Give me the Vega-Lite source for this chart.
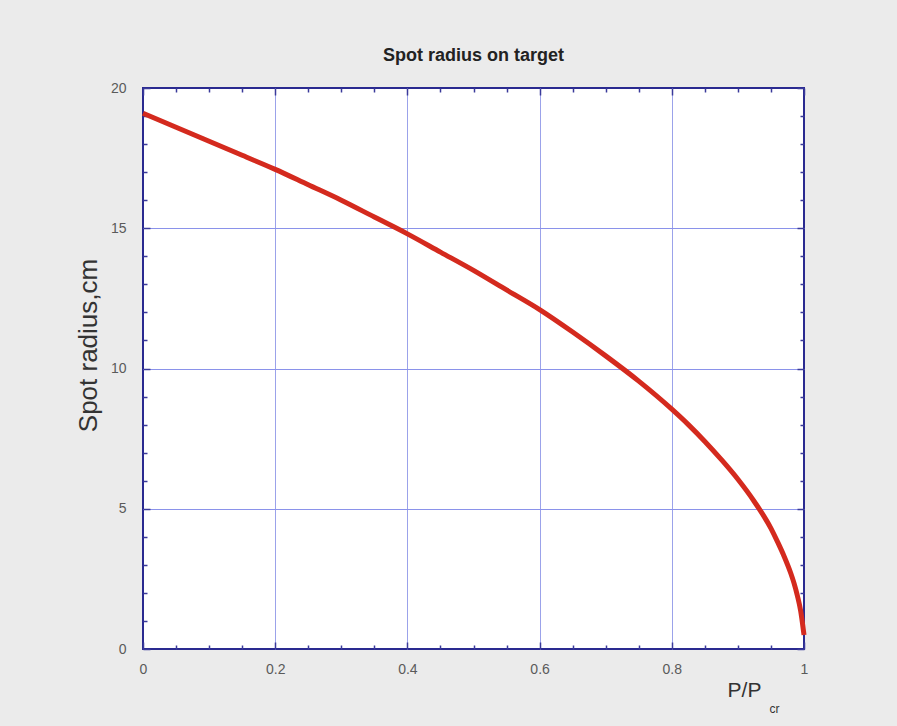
{
  "$schema": "https://vega.github.io/schema/vega-lite/v6.json",
  "autosize": "none",
  "width": 661,
  "height": 561,
  "padding": {"left": 143, "top": 88, "right": 93, "bottom": 77},
  "background": "#ebebeb",
  "config": {
    "view": {"fill": "white", "stroke": "#2a2a90", "strokeWidth": 2},
    "font": "Liberation Sans"
  },
  "title": {
    "text": "Spot radius on target",
    "fontSize": 18,
    "fontWeight": "bold",
    "color": "#222222",
    "anchor": "middle",
    "offset": 16
  },
  "data": {
    "values": [
      {"p": 0.0, "r": 19.1},
      {"p": 0.05, "r": 18.6},
      {"p": 0.1, "r": 18.1},
      {"p": 0.15, "r": 17.6},
      {"p": 0.2, "r": 17.1},
      {"p": 0.25, "r": 16.55},
      {"p": 0.3, "r": 16.0},
      {"p": 0.35, "r": 15.4},
      {"p": 0.4, "r": 14.8},
      {"p": 0.45, "r": 14.15},
      {"p": 0.5, "r": 13.5},
      {"p": 0.55, "r": 12.8},
      {"p": 0.6, "r": 12.1},
      {"p": 0.65, "r": 11.3},
      {"p": 0.7, "r": 10.45},
      {"p": 0.75, "r": 9.55},
      {"p": 0.8, "r": 8.55},
      {"p": 0.825, "r": 8.0},
      {"p": 0.85, "r": 7.4},
      {"p": 0.875, "r": 6.75},
      {"p": 0.9, "r": 6.05},
      {"p": 0.925, "r": 5.25},
      {"p": 0.95, "r": 4.3},
      {"p": 0.96, "r": 3.82},
      {"p": 0.97, "r": 3.3},
      {"p": 0.98, "r": 2.7},
      {"p": 0.985, "r": 2.34},
      {"p": 0.99, "r": 1.9},
      {"p": 0.995, "r": 1.35},
      {"p": 0.9975, "r": 0.95},
      {"p": 1.0, "r": 0.5}
    ]
  },
  "resolve": {"axis": {"x": "independent", "y": "independent"}},
  "layer": [
    {
      "mark": {"type": "line", "color": "#d42a1e", "strokeWidth": 5, "strokeCap": "butt", "interpolate": "monotone", "clip": false},
      "encoding": {
        "x": {
          "field": "p", "type": "quantitative",
          "scale": {"domain": [0, 1], "nice": false, "zero": false},
          "axis": {
            "orient": "bottom",
            "values": [0, 0.05, 0.1, 0.15, 0.2, 0.25, 0.3, 0.35, 0.4, 0.45, 0.5, 0.55, 0.6, 0.65, 0.7, 0.75, 0.8, 0.85, 0.9, 0.95, 1],
            "labelExpr": "abs(datum.value*5 - round(datum.value*5)) < 0.001 ? format(datum.value, '~g') : ''",
            "labelFontSize": 14,
            "labelColor": "#5a5a5a",
            "labelPadding": 20,
            "labelFlush": false,
            "domain": false,
            "grid": true,
            "gridColor": "#9ba2ea",
            "gridWidth": 1,
            "gridOpacity": {"condition": {"test": "abs(datum.value*5 - round(datum.value*5)) < 0.001 && datum.value > 0.001 && datum.value < 0.999", "value": 1}, "value": 0},
            "ticks": true,
            "tickColor": "#3a3a9a",
            "tickWidth": 1.5,
            "tickSize": {"condition": {"test": "abs(datum.value*5 - round(datum.value*5)) < 0.001", "value": -7}, "value": -4},
            "title": "P/P",
            "titleFontSize": 21,
            "titleFontWeight": "normal",
            "titleColor": "#333333",
            "titleAlign": "center",
            "titleBaseline": "alphabetic",
            "titleX": 601,
            "titleY": 47
          }
        },
        "y": {
          "field": "r", "type": "quantitative",
          "scale": {"domain": [0, 20], "nice": false, "zero": false},
          "axis": {
            "orient": "left",
            "values": [0, 1, 2, 3, 4, 5, 6, 7, 8, 9, 10, 11, 12, 13, 14, 15, 16, 17, 18, 19, 20],
            "labelExpr": "datum.value % 5 == 0 ? format(datum.value, 'd') : ''",
            "labelFontSize": 14,
            "labelColor": "#5a5a5a",
            "labelPadding": 24,
            "labelFlush": false,
            "domain": false,
            "grid": true,
            "gridColor": "#8a92ea",
            "gridWidth": 1,
            "gridOpacity": {"condition": {"test": "datum.value % 5 == 0 && datum.value > 0 && datum.value < 20", "value": 1}, "value": 0},
            "ticks": true,
            "tickColor": "#3a3a9a",
            "tickWidth": 1.5,
            "tickSize": {"condition": {"test": "datum.value % 5 == 0", "value": -7}, "value": -4},
            "title": "Spot radius,cm",
            "titleFontSize": 26,
            "titleFontWeight": "normal",
            "titleColor": "#333333",
            "titleAngle": -90,
            "titleAlign": "center",
            "titleBaseline": "middle",
            "titleX": -55,
            "titleY": 257
          }
        }
      }
    },
    {
      "mark": {"type": "point", "opacity": 0},
      "encoding": {
        "x": {
          "field": "p", "type": "quantitative",
          "axis": {
            "orient": "top",
            "values": [0, 0.05, 0.1, 0.15, 0.2, 0.25, 0.3, 0.35, 0.4, 0.45, 0.5, 0.55, 0.6, 0.65, 0.7, 0.75, 0.8, 0.85, 0.9, 0.95, 1],
            "labels": false,
            "domain": false,
            "grid": false,
            "ticks": true,
            "tickColor": "#3a3a9a",
            "tickWidth": 1.5,
            "tickSize": {"condition": {"test": "abs(datum.value*5 - round(datum.value*5)) < 0.001", "value": -7}, "value": -4},
            "title": "cr",
            "titleFontSize": 12,
            "titleFontWeight": "normal",
            "titleColor": "#333333",
            "titleAlign": "center",
            "titleBaseline": "alphabetic",
            "titleX": 631,
            "titleY": 624
          }
        },
        "y": {
          "field": "r", "type": "quantitative",
          "axis": {
            "orient": "right",
            "values": [0, 1, 2, 3, 4, 5, 6, 7, 8, 9, 10, 11, 12, 13, 14, 15, 16, 17, 18, 19, 20],
            "labels": false,
            "domain": false,
            "grid": false,
            "ticks": true,
            "tickColor": "#3a3a9a",
            "tickWidth": 1.5,
            "tickSize": {"condition": {"test": "datum.value % 5 == 0", "value": -7}, "value": -4},
            "title": null
          }
        }
      }
    }
  ]
}
